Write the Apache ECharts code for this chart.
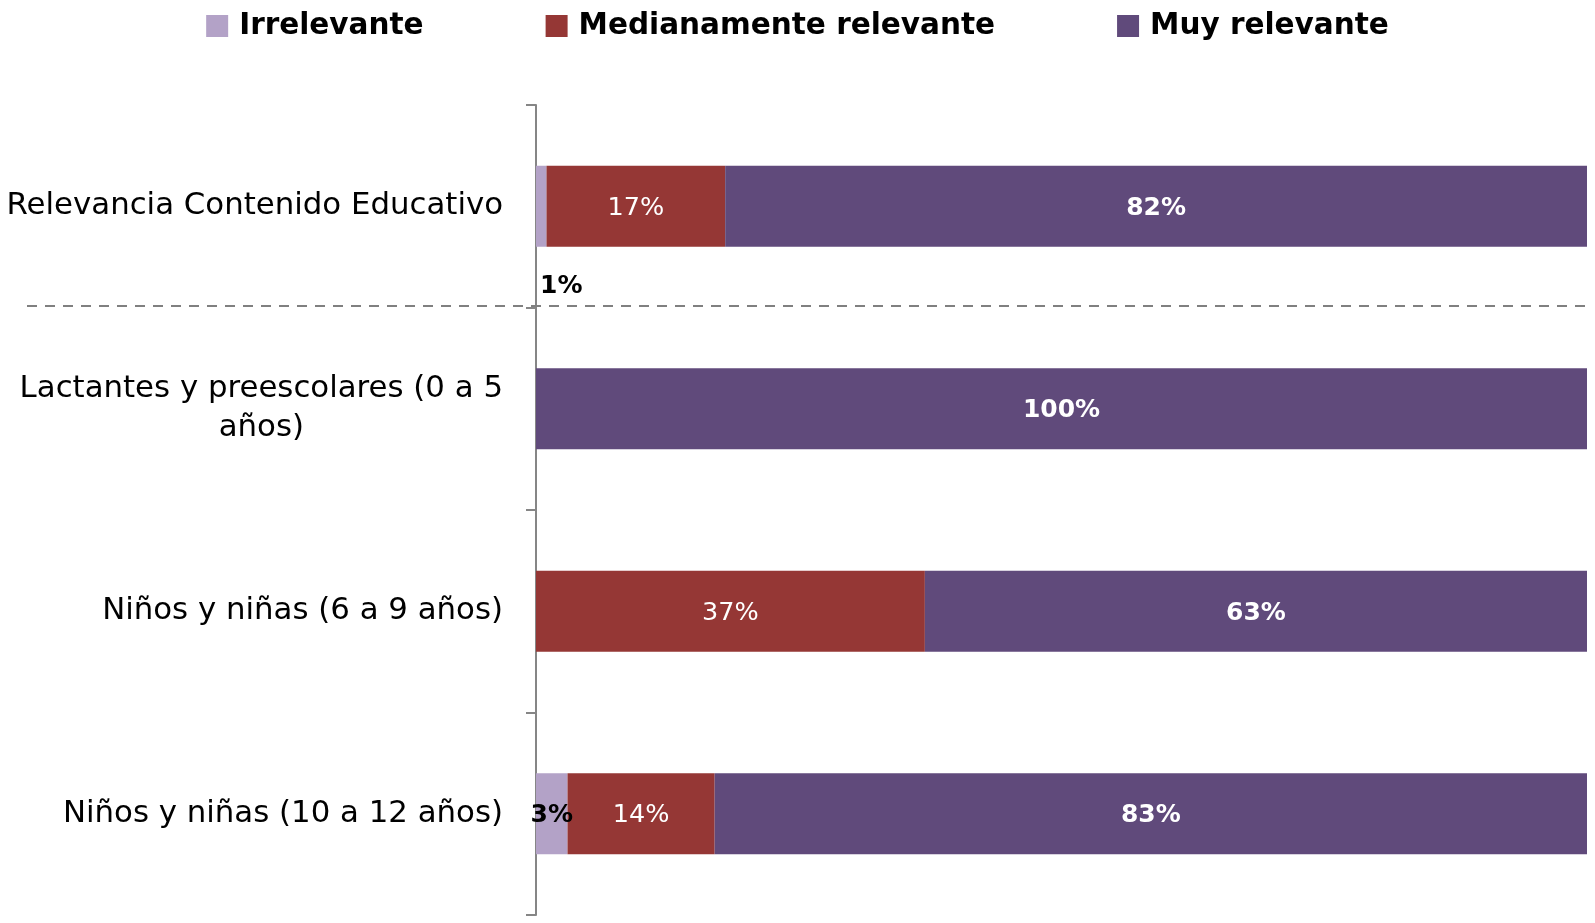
<!DOCTYPE html>
<html lang="es">
<head>
    <meta charset="UTF-8">
    <title>Relevancia</title>
    <script src="https://cdn.jsdelivr.net/npm/echarts@6/dist/echarts.min.js"></script>
    <style>
        html, body { margin: 0; padding: 0; background: #fff; }
        #ec { width: 1595px; height: 923px; }
    </style>
</head>
<body>
<div id="ec"></div>
<script>
    var categorias = ['Relevancia Contenido Educativo', 'Lactantes y preescolares (0 a 5\naños)', 'Niños y niñas (6 a 9 años)', 'Niños y niñas (10 a 12 años)'];
    var nombres = ['Irrelevante', 'Medianamente relevante', 'Muy relevante'];
    var irrelevante = [1, 0, 0, 3];
    var medianamente = [17, 0, 37, 14];
    var muyRelevante = [82, 100, 63, 83];

    var fuente = '"DejaVu Sans", sans-serif';
    var colores = ['#B3A2C7', '#953735', '#604A7B'];

    function etiqueta(p) {
        return p.value ? p.value + '%' : '';
    }

    var myChart = echarts.init(document.getElementById('ec'));
    myChart.setOption({
        animation: false,
        color: colores,
        legend: {
            top: 6,
            left: 'center',
            itemWidth: 22,
            itemHeight: 22,
            itemGap: 122,
            icon: 'rect',
            textStyle: {
                fontFamily: fuente,
                fontWeight: 'bold',
                fontSize: 29.5,
                color: '#000',
                padding: [0, 0, 0, 6]
            },
            data: nombres
        },
        grid: {
            left: 536,
            right: 8,
            top: 105,
            bottom: 8
        },
        xAxis: {
            type: 'value',
            min: 0,
            max: 100,
            show: false
        },
        yAxis: {
            type: 'category',
            inverse: true,
            data: categorias,
            axisLine: {show: true, lineStyle: {color: '#868686', width: 2}},
            axisTick: {show: true, length: 10, lineStyle: {color: '#868686', width: 2}},
            axisLabel: {
                margin: 33,
                formatter: function (v) {
                    return v.split('\n').map(function (l) {
                        return '{c|' + l + '}';
                    }).join('\n');
                },
                rich: {
                    c: {
                        align: 'center',
                        fontFamily: fuente,
                        fontSize: 30.8,
                        lineHeight: 39,
                        color: '#000'
                    }
                }
            }
        },
        series: [
            {
                name: nombres[0],
                type: 'bar',
                stack: 'total',
                barWidth: '40%',
                data: irrelevante.map(function (v, i) {
                    if (i === 0) {
                        return {value: v, label: {position: ['0%', '100%'], offset: [4, 27]}};
                    }
                    return v;
                }),
                label: {
                    show: true,
                    formatter: etiqueta,
                    offset: [0, 2],
                    fontFamily: fuente,
                    fontWeight: 'bold',
                    fontSize: 25,
                    color: '#000'
                }
            },
            {
                name: nombres[1],
                type: 'bar',
                stack: 'total',
                data: medianamente,
                label: {
                    show: true,
                    formatter: etiqueta,
                    offset: [0, 2],
                    fontFamily: fuente,
                    fontSize: 25.5,
                    color: '#fff'
                }
            },
            {
                name: nombres[2],
                type: 'bar',
                stack: 'total',
                data: muyRelevante,
                label: {
                    show: true,
                    formatter: etiqueta,
                    offset: [0, 2],
                    fontFamily: fuente,
                    fontWeight: 'bold',
                    fontSize: 25,
                    color: '#fff'
                }
            }
        ]
    });

    // linea punteada entre la primera y la segunda categoria
    var y0 = myChart.convertToPixel({yAxisIndex: 0}, 0);
    var y1 = myChart.convertToPixel({yAxisIndex: 0}, 1);
    var xFin = myChart.convertToPixel({xAxisIndex: 0}, 100);
    var yLinea = Math.round((y0 + y1) / 2) - 2;
    myChart.setOption({
        graphic: [{
            type: 'line',
            shape: {x1: 27, y1: yLinea, x2: xFin, y2: yLinea},
            style: {stroke: '#808080', lineWidth: 2, lineDash: [10, 8]},
            z: 10
        }]
    });
</script>
</body>
</html>
